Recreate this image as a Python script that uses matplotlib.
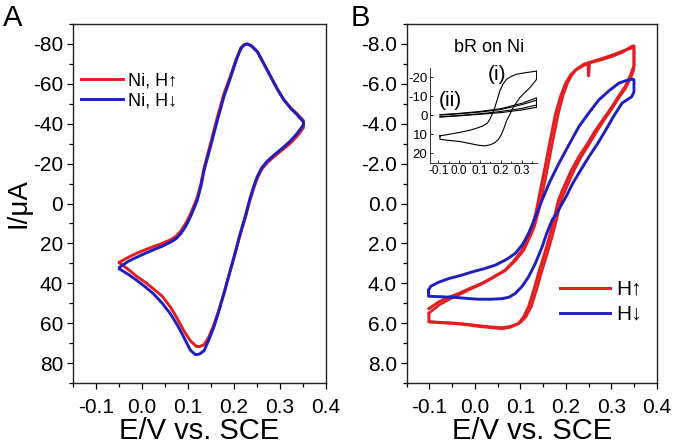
import matplotlib
matplotlib.use("Agg")
import matplotlib.pyplot as plt
from matplotlib.ticker import MultipleLocator, FormatStrFormatter

plt.rcParams['font.family'] = ['Liberation Sans', 'DejaVu Sans']

RED = '#e41e20'
BLUE = '#1f1fbf'

# ---- panel A: Ni, H up / H down ----
a_blue_E = [-0.049, -0.030, -0.011, 0.007, 0.025, 0.044, 0.062, 0.075, 0.084, 0.095, 0.105,
            0.113, 0.120, 0.128, 0.135, 0.150, 0.164, 0.178, 0.193, 0.205, 0.215, 0.222,
            0.229, 0.238, 0.251, 0.265, 0.280, 0.295, 0.309, 0.324, 0.338, 0.351,
            0.351, 0.338, 0.324, 0.310, 0.295, 0.283, 0.272, 0.260, 0.250, 0.242, 0.234, 0.226,
            0.213, 0.200, 0.189, 0.178, 0.167, 0.156, 0.145, 0.135, 0.125, 0.116, 0.105,
            0.091, 0.077, 0.062, 0.044, 0.025, 0.007, -0.011, -0.030, -0.049]
a_blue_I = [32.0, 29.0, 26.9, 25.0, 23.2, 21.4, 19.4, 17.5, 15.2, 11.5, 6.8,
            2.5, -1.6, -8.5, -16.6, -29.5, -41.8, -53.5, -63.5, -72.0, -77.8, -79.5,
            -80.0, -79.0, -76.1, -70.0, -63.5, -57.0, -51.8, -47.5, -44.3, -40.9,
            -39.5, -35.3, -31.7, -28.7, -25.8, -23.5, -21.2, -17.8, -13.2, -8.0, -2.0, 5.1,
            15.5, 26.9, 36.0, 45.3, 54.0, 62.1, 68.5, 73.8, 75.5, 75.8, 73.5,
            67.1, 61.0, 55.4, 50.0, 45.3, 41.8, 38.6, 35.5, 32.8]

a_red_E = [-0.049, -0.030, -0.011, 0.007, 0.025, 0.044, 0.062, 0.075, 0.084, 0.095, 0.105,
           0.113, 0.120, 0.128, 0.135, 0.150, 0.164, 0.178, 0.193, 0.205, 0.215, 0.222,
           0.229, 0.238, 0.251, 0.265, 0.280, 0.295, 0.309, 0.324, 0.338, 0.351,
           0.351, 0.338, 0.324, 0.310, 0.295, 0.283, 0.272, 0.260, 0.250, 0.242, 0.234, 0.226,
           0.213, 0.200, 0.189, 0.178, 0.167, 0.156, 0.145, 0.135, 0.125, 0.118, 0.105,
           0.091, 0.077, 0.062, 0.044, 0.025, 0.007, -0.011, -0.030, -0.049]
a_red_I = [29.4, 27.0, 24.9, 23.2, 21.6, 20.0, 18.2, 16.2, 13.9, 10.0, 5.5,
           1.0, -3.0, -10.0, -18.0, -31.0, -43.5, -55.0, -64.5, -72.5, -78.0, -79.6,
           -80.0, -79.0, -76.0, -70.0, -63.5, -57.0, -51.8, -47.8, -44.8, -41.5,
           -38.0, -34.0, -30.5, -27.8, -25.0, -22.7, -20.4, -17.0, -12.3, -7.0, -1.0, 6.0,
           16.0, 27.0, 36.0, 45.0, 53.5, 61.0, 67.0, 70.8, 71.8, 71.6, 68.8,
           63.8, 57.8, 52.0, 46.5, 42.8, 39.5, 36.6, 33.0, 29.8]

# ---- panel B: bR on Ni, two red cycles, one blue ----
b_red1_E = [-0.101, -0.079, -0.057, -0.035, -0.010, 0.016, 0.040, 0.067, 0.085, 0.104, 0.116,
            0.126, 0.134, 0.140, 0.149, 0.156, 0.167, 0.178, 0.189, 0.200, 0.211, 0.222,
            0.237, 0.249, 0.250, 0.252, 0.276, 0.302, 0.325, 0.346, 0.350, 0.350,
            0.342, 0.331, 0.317, 0.302, 0.285, 0.266, 0.248, 0.229, 0.211, 0.193, 0.184,
            0.173, 0.162, 0.151, 0.140, 0.129, 0.118, 0.107, 0.096, 0.078, 0.060, 0.035,
            0.009, -0.017, -0.042, -0.070, -0.101, -0.101]
b_red1_I = [5.27, 4.93, 4.70, 4.51, 4.25, 4.00, 3.70, 3.34, 2.90, 2.34, 1.70,
            1.17, 0.50, -0.17, -1.20, -2.00, -3.30, -4.53, -5.40, -6.04, -6.45, -6.70,
            -6.90, -7.03, -6.40, -7.05, -7.20, -7.38, -7.60, -7.88, -7.90, -6.90,
            -6.40, -5.87, -5.40, -4.86, -4.30, -3.69, -3.00, -2.35, -1.60, -0.68, -0.17,
            0.90, 1.84, 2.70, 3.51, 4.40, 5.19, 5.70, 6.02, 6.20, 6.27, 6.22,
            6.16, 6.08, 6.02, 5.98, 5.94, 5.50]

b_red2_E = [-0.101, -0.079, -0.057, -0.035, -0.010, 0.016, 0.040, 0.067, 0.088, 0.108, 0.121,
            0.131, 0.139, 0.146, 0.155, 0.162, 0.173, 0.184, 0.194, 0.204, 0.214, 0.224,
            0.240, 0.276, 0.302, 0.325, 0.346, 0.350, 0.350,
            0.342, 0.331, 0.317, 0.302, 0.285, 0.268, 0.251, 0.233, 0.216, 0.199, 0.190,
            0.179, 0.168, 0.157, 0.146, 0.135, 0.124, 0.112, 0.100, 0.080, 0.060, 0.035,
            0.009, -0.017, -0.042, -0.070, -0.101]
b_red2_I = [5.50, 5.10, 4.82, 4.58, 4.30, 4.03, 3.72, 3.36, 2.90, 2.34, 1.70,
            1.17, 0.50, -0.17, -1.20, -2.00, -3.30, -4.53, -5.40, -6.04, -6.45, -6.75,
            -7.00, -7.25, -7.45, -7.65, -7.80, -7.82, -6.70,
            -6.25, -5.75, -5.30, -4.76, -4.20, -3.60, -2.95, -2.30, -1.55, -0.65, -0.17,
            0.90, 1.84, 2.70, 3.51, 4.40, 5.19, 5.70, 5.98, 6.15, 6.22, 6.18,
            6.12, 6.05, 6.00, 5.96, 5.92]

b_blue_E = [-0.102, -0.097, -0.080, -0.057, -0.030, -0.006, 0.020, 0.045, 0.070, 0.089, 0.105,
            0.118, 0.133, 0.148, 0.165, 0.185, 0.207, 0.229, 0.251, 0.273, 0.295, 0.317,
            0.335, 0.347, 0.350, 0.350,
            0.345, 0.324, 0.306, 0.288, 0.270, 0.251, 0.233, 0.215, 0.202, 0.192, 0.180,
            0.170, 0.158, 0.148, 0.133, 0.118, 0.104, 0.089, 0.075, 0.060, 0.035, 0.009,
            -0.017, -0.042, -0.070, -0.102, -0.102]
b_blue_I = [4.35, 4.15, 3.95, 3.76, 3.60, 3.43, 3.27, 3.09, 2.80, 2.50, 2.05,
            1.50, 0.70, -0.18, -1.10, -2.02, -2.95, -3.86, -4.55, -5.20, -5.65, -6.04,
            -6.18, -6.24, -6.20, -5.60,
            -5.35, -5.04, -4.40, -3.69, -3.00, -2.35, -1.68, -1.00, -0.40, 0.00, 0.50,
            0.83, 1.50, 2.17, 3.00, 3.68, 4.15, 4.51, 4.70, 4.77, 4.80, 4.80,
            4.76, 4.71, 4.68, 4.65, 4.35]

# ---- inset: (i) bR on Ni, (ii) bare ----
in_i_E = [-0.092, -0.060, -0.028, 0.010, 0.052, 0.085, 0.115, 0.135, 0.147, 0.160, 0.171,
          0.183, 0.195, 0.210, 0.227, 0.250, 0.275, 0.300, 0.323, 0.350, 0.371, 0.371,
          0.339, 0.315, 0.291, 0.275, 0.259, 0.243, 0.227, 0.215, 0.203, 0.188, 0.171,
          0.150, 0.123, 0.095, 0.067, 0.035, 0.004, -0.030, -0.060, -0.092, -0.092]
in_i_I = [10.9, 10.3, 9.7, 8.9, 7.9, 6.8, 5.6, 4.2, 2.1, -1.0, -4.1,
          -8.5, -12.9, -16.5, -19.0, -20.6, -21.7, -22.2, -22.6, -23.0, -23.4, -19.0,
          -14.6, -12.0, -9.4, -6.8, -4.1, -0.5, 3.0, 6.8, 10.0, 12.8, 14.5,
          15.6, 16.2, 15.9, 15.3, 14.6, 13.9, 13.5, 13.2, 12.7, 10.9]

in_ii_E = [-0.092, 0.000, 0.100, 0.200, 0.300, 0.371, 0.371, 0.300, 0.200, 0.100, 0.000, -0.092]
in_ii1_I = [-0.3, -1.0, -2.0, -3.5, -6.3, -9.2, -4.2, -2.8, -1.4, -0.5, 0.3, 1.0]
in_ii2_I = [-0.1, -0.8, -1.7, -3.0, -5.6, -8.0, -5.4, -3.6, -2.0, -0.8, 0.1, 0.8]


def style(ax, ymaj, ymin, fmt):
    ax.set_xlim(-0.15, 0.4)
    ax.xaxis.set_major_locator(MultipleLocator(0.1))
    ax.xaxis.set_minor_locator(MultipleLocator(0.05))
    ax.xaxis.set_major_formatter(FormatStrFormatter('%.1f'))
    ax.yaxis.set_major_locator(MultipleLocator(ymaj))
    ax.yaxis.set_minor_locator(MultipleLocator(ymin))
    ax.yaxis.set_major_formatter(FormatStrFormatter(fmt))
    ax.tick_params(which='both', direction='out', top=False, right=False, width=0.9)
    ax.tick_params(which='major', length=4.5)
    ax.tick_params(which='minor', length=3)
    ax.tick_params(axis='x', labelsize=15, pad=6)
    ax.tick_params(axis='y', labelsize=15, pad=2.5)
    for s in ax.spines.values():
        s.set_linewidth(1.0)
        s.set_color('#222222')
    ax.set_xlabel('E/V vs. SCE', fontsize=21, labelpad=0)


fig = plt.figure(figsize=(6.74, 4.45), dpi=100)

# panel A
axA = fig.add_axes([73 / 674, 1 - 383 / 445, 253 / 674, 359 / 445])
axA.plot(a_red_E, a_red_I, color=RED, lw=2.1, label='Ni, H\u2191')
axA.plot(a_blue_E, a_blue_I, color=BLUE, lw=2.1, label='Ni, H\u2193')
axA.set_ylim(90, -90)
style(axA, 20, 10, '%d')
axA.set_ylabel('I/\u03bcA', fontsize=20, labelpad=1)
axA.legend(loc='upper left', bbox_to_anchor=(81 / 674, 1 - 72 / 445), bbox_transform=fig.transFigure,
           frameon=False, fontsize=13, handlelength=2.3, handletextpad=0.3,
           borderpad=0, borderaxespad=0, labelspacing=0.2)

# panel B
axB = fig.add_axes([406.7 / 674, 1 - 383 / 445, 250 / 674, 359 / 445])
axB.plot(b_red1_E, b_red1_I, color=RED, lw=2.2, label='H\u2191')
axB.plot(b_red2_E, b_red2_I, color=RED, lw=1.8)
axB.plot(b_blue_E, b_blue_I, color=BLUE, lw=2.1, label='H\u2193')
axB.set_ylim(9, -9)
style(axB, 2, 1, '%.1f')
axB.legend(loc='upper left', bbox_to_anchor=(560 / 674, 1 - 280 / 445), bbox_transform=fig.transFigure,
           frameon=False, fontsize=15, handlelength=2.4, handletextpad=0.3,
           borderpad=0, borderaxespad=0, labelspacing=0.28)

# inset
axI = fig.add_axes([429.5 / 674, 1 - 162.5 / 445, 107.5 / 674, 94.5 / 445])
axI.plot(in_i_E, in_i_I, color='black', lw=0.8)
axI.plot(in_ii_E, in_ii1_I, color='black', lw=0.8)
axI.plot(in_ii_E, in_ii2_I, color='black', lw=0.8)
axI.set_xlim(-0.142, 0.373)
axI.set_ylim(25, -25)
axI.spines['top'].set_visible(False)
axI.spines['right'].set_visible(False)
for s in ['left', 'bottom']:
    axI.spines[s].set_linewidth(0.7)
    axI.spines[s].set_color('#333333')
axI.xaxis.set_major_locator(MultipleLocator(0.1))
axI.xaxis.set_minor_locator(MultipleLocator(0.05))
axI.xaxis.set_major_formatter(FormatStrFormatter('%.1f'))
axI.yaxis.set_major_locator(MultipleLocator(10))
axI.yaxis.set_major_formatter(FormatStrFormatter('%d'))
axI.tick_params(which='both', direction='in', length=2, width=0.6, pad=1.5)
axI.tick_params(axis='x', labelsize=8.5)
axI.tick_params(axis='y', labelsize=9.5)
axI.tick_params(which='minor', length=1.5)
axI.patch.set_alpha(0)

fig.text(489 / 674, 1 - 48 / 445, 'bR on Ni', fontsize=13, ha='center', va='center')
fig.text(497 / 674, 1 - 74 / 445, '(i)', fontsize=15, ha='center', va='center')
fig.text(450 / 674, 1 - 101 / 445, '(ii)', fontsize=15, ha='center', va='center')

fig.text(3 / 674, 1 - 4 / 445, 'A', fontsize=21, ha='left', va='top')
fig.text(351 / 674, 1 - 4 / 445, 'B', fontsize=21, ha='left', va='top')

fig.savefig('out.png', dpi=100)
